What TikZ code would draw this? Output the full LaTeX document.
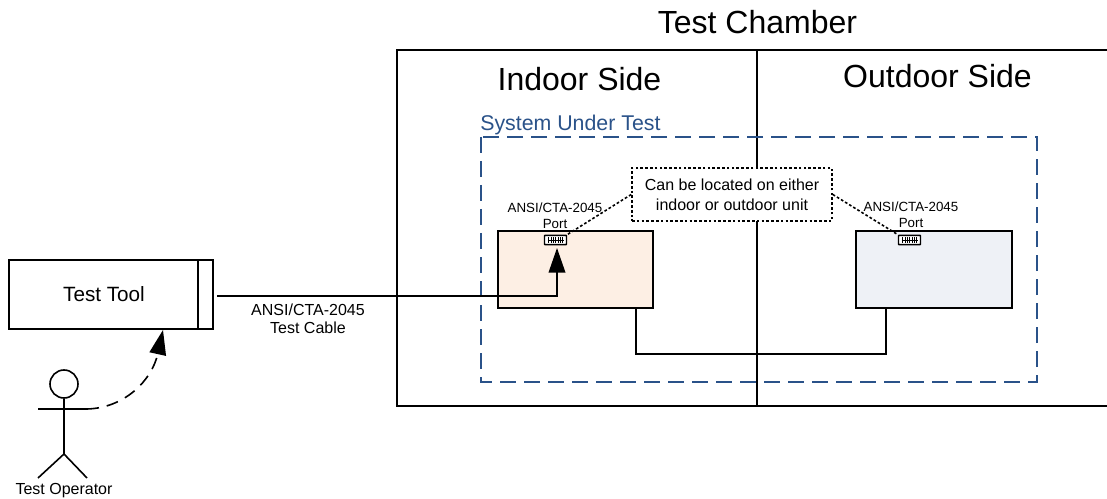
\documentclass[tikz,border=0pt]{standalone}
\usepackage{fontspec}
\setmainfont{Liberation Sans}
\usetikzlibrary{arrows.meta}
\definecolor{sutblue}{HTML}{2A5289}
\definecolor{indoorfill}{HTML}{FDEFE4}
\definecolor{outdoorfill}{HTML}{EEF1F6}
\tikzset{
    line/.style={line width=1.2pt, black},
    box/.style={draw, line width=1.2pt, rectangle, inner sep=0pt},
    notedots/.style={dash pattern=on 2pt off 1.6pt},
    bigtext/.style={font=\fontsize{24}{28}\selectfont, inner sep=0pt},
    smalltext/.style={font=\fontsize{10}{12}\selectfont, align=center, inner sep=0pt},
    porticon/.style={draw, line width=1.1pt, fill=white, rounded corners=0.5pt, minimum width=16.5pt, minimum height=7pt, inner sep=0pt},
    bigtip/.style={-{Triangle[length=18.5pt, width=12.5pt]}}
}
\begin{document}
\begin{tikzpicture}[x=0.75pt, y=-0.75pt]
    \useasboundingbox (0, 0) rectangle (1107, 499);

    %camara
    \draw[line] (1107, 50) -- (397, 50) -- (397, 406) -- (1107, 406);
    \coordinate (dividerTop) at (757, 50);
    \coordinate (dividerBottom) at (757, 406);
    \draw[line] (dividerTop) -- (dividerBottom);
    \node[bigtext] (chamberLabel) at (757.5, 22) {Test Chamber};
    \node[bigtext] (indoorLabel) at (579.5, 79) {Indoor Side};
    \node[bigtext] (outdoorLabel) at (937.5, 76) {Outdoor Side};

    %sistema
    \draw[draw=sutblue, line width=1.5pt, dash pattern=on 12pt off 6pt] (481, 137) rectangle (1037, 382);
    \node[anchor=west, inner sep=0pt, text=sutblue, font=\fontsize{16}{19}\selectfont] (sutLabel) at (480, 125) {System Under Test};

    %unidades
    \node[box, fill=indoorfill, minimum width=116pt, minimum height=57.5pt] (indoorUnit) at (575.5, 269.5) {};
    \node[box, fill=outdoorfill, minimum width=117pt, minimum height=57.5pt] (outdoorUnit) at (934, 269.5) {};
    \coordinate (linkLeft) at (636, 308);
    \coordinate (linkRight) at (886, 308);
    \draw[line] (linkLeft) -- (636, 354) -- (886, 354) -- (linkRight);

    %portas
    \node[porticon] (indoorPort) at (555.5, 240) {};
    \node[porticon] (outdoorPort) at (909.5, 240) {};
    \foreach \p in {indoorPort, outdoorPort} {
        \foreach \i in {-3,...,3} {
            \draw[line width=0.35pt] ([xshift=\i*1.7pt, yshift=2pt]\p.center) -- ([xshift=\i*1.7pt, yshift=-2pt]\p.center);
        }
        \draw[line width=0.35pt] ([xshift=-6pt]\p.center) -- ([xshift=6pt]\p.center);
    }
    \node[smalltext] (indoorPortLabel) at (555, 216) {ANSI/CTA-2045\\Port};
    \node[smalltext] (outdoorPortLabel) at (911, 215) {ANSI/CTA-2045\\Port};

    %nota
    \node[box, fill=white, notedots, minimum width=150pt, minimum height=39.5pt, align=center, font=\fontsize{12}{15}\selectfont] (note) at (732, 194.5) {Can be located on either\\indoor or outdoor unit};
    \draw[line, notedots] (note.west) -- (indoorPort.north east);
    \draw[line, notedots] (note.east) -- (outdoorPort.north west);

    %ferramenta
    \node[box, minimum width=153pt, minimum height=51.75pt] (testTool) at (111, 294.5) {};
    \draw[line] (197.7, 260) -- (197.7, 329);
    \node[inner sep=0pt, font=\fontsize{15.5}{18}\selectfont] (testToolLabel) at (104, 294.5) {Test Tool};
    \coordinate (cableStart) at (217, 296);
    \draw[line, bigtip] (cableStart) -- (557, 296) -- (557, 248);
    \node[inner sep=0pt, align=center, font=\fontsize{12}{13.5}\selectfont] (cableLabel) at (308, 319) {ANSI/CTA-2045\\Test Cable};

    %operador
    \node[draw, circle, line width=1.2pt, minimum size=21pt, inner sep=0pt] (operatorHead) at (64, 384) {};
    \coordinate (armLeft) at (38, 409);
    \coordinate (armRight) at (87, 409);
    \coordinate (hip) at (64, 454);
    \draw[line] (armLeft) -- (armRight);
    \draw[line] (operatorHead.south) -- (hip);
    \draw[line] (38, 478) -- (hip) -- (87, 478);
    \node[inner sep=0pt, font=\fontsize{12}{14}\selectfont] (operatorLabel) at (64, 491) {Test Operator};
    \coordinate (toolEntry) at (163, 330);
    \draw[line, bigtip, dash pattern=on 9pt off 6pt] (armRight) .. controls (125, 408) and (152, 380) .. (toolEntry);
\end{tikzpicture}
\end{document}
